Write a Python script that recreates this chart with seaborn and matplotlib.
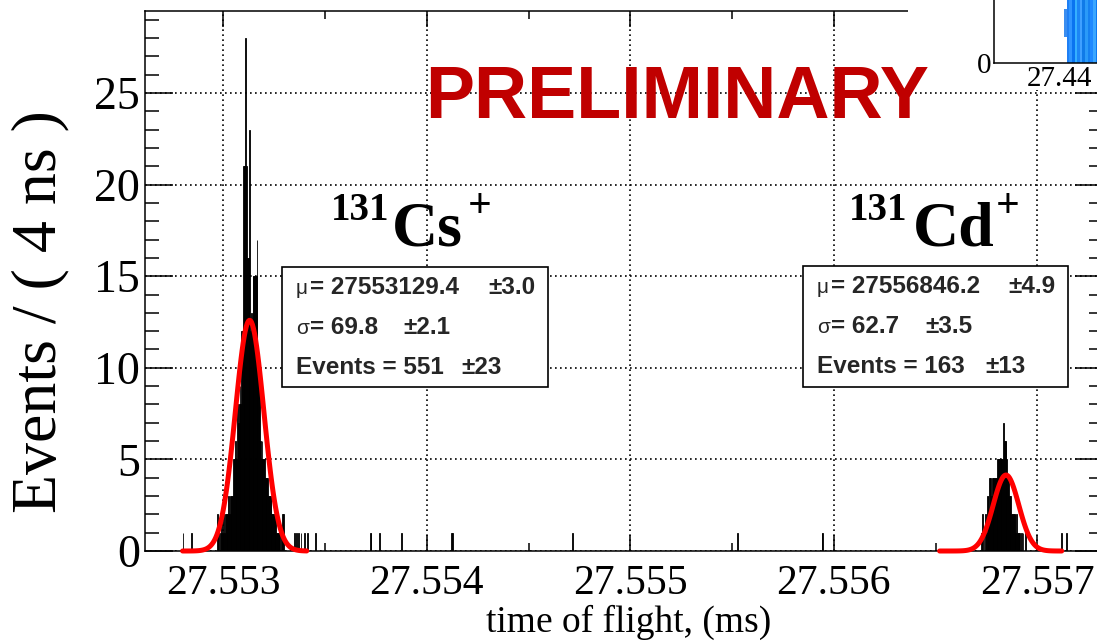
import numpy as np
import pandas as pd
import matplotlib
matplotlib.use("Agg")
import matplotlib.pyplot as plt
import seaborn as sns
from matplotlib.patches import Rectangle
from matplotlib.ticker import MultipleLocator, FormatStrFormatter

# ---------------- data ----------------
bin_width_ms = 0.000004          # 4 ns bins
hist_start_ms = 27.552600
hist_stop_ms = 27.557300

# 131Cs+ peak, counts per 4 ns bin starting at cs_start_ms
cs_start_ms = 27.552960
cs_counts = [0, 0, 2, 0, 1, 0, 1, 2, 1, 1, 2, 1,
             2, 2, 1, 2, 3, 2,
             3, 2, 3, 3,
             5, 5, 6, 5, 5, 8,
             7, 8, 9, 8,
             12, 12,
             21, 21, 21, 28, 21,
             16, 16, 16, 23,
             12, 13, 12,
             15, 15, 15, 15, 15,
             17,
             10, 10, 10,
             6, 5, 6, 5, 5, 5,
             4, 4, 4, 4,
             3, 3, 3, 3, 2,
             2, 2, 2, 2, 2, 1,
             1, 1, 1, 1,
             0, 1, 2, 2, 0]

# 131Cd+ peak, counts per 4 ns bin starting at cd_start_ms
cd_start_ms = 27.556700
cd_counts = [0, 0, 0, 0, 0, 0, 1,
             2, 0,
             1, 0, 2, 1,
             3, 3, 2,
             4, 4, 3, 4, 4, 4, 4, 4, 4,
             4, 5, 5,
             5, 5, 5, 5, 5,
             7, 6,
             6, 6,
             5, 4, 4,
             3, 3, 3,
             2, 2, 2, 2, 2,
             1, 2, 1, 1,
             1, 1, 0, 1, 0,
             1, 0, 0, 1, 0, 0]

# isolated single events (time of flight, ms)
stray_tof_ms = [27.5528034, 27.552844, 27.553352, 27.553357, 27.5533695,
                27.553384, 27.5533966, 27.553416, 27.553453, 27.5537209,
                27.5537258, 27.553768, 27.553873, 27.554122, 27.554126,
                27.554713, 27.555528, 27.555944, 27.555948, 27.557120,
                27.557144]

# fit results (ns)
cs_mu, cs_mu_err = 27553129.4, 3.0
cs_sigma, cs_sigma_err = 69.8, 2.1
cs_events, cs_events_err = 551, 23
cs_fit_range_ms = (27.55280, 27.55341)

cd_mu, cd_mu_err = 27556846.2, 4.9
cd_sigma, cd_sigma_err = 62.7, 3.5
cd_events, cd_events_err = 163, 13
cd_fit_range_ms = (27.55652, 27.55712)

x_ticks = [27.553, 27.554, 27.555, 27.556, 27.557]
y_ticks = [0, 5, 10, 15, 20, 25]

# inset (partially visible 2D histogram in top-right corner)
inset_cell_x = [27.4408, 27.4412, 27.4416, 27.4420, 27.4424, 27.4428, 27.4432,
                27.4436, 27.4440, 27.4444, 27.4448, 27.4452, 27.4456, 27.4460]
inset_cell_bottom = [3.3, 0.0, 0.0, 0.0, 0.0, 0.0, 0.0, 0.0, 0.0, 0.0, 0.0, 0.0, 0.0, 0.0]
inset_cell_height = [3.5, 10, 10, 10, 10, 10, 10, 10, 10, 10, 10, 10, 10, 10]
inset_cell_color = ['#3b8ef0', '#1e7ff5', '#2f95ff', '#0a74f0', '#35b0ff', '#1c86f5',
                    '#3fa0ff', '#0f7ae8', '#2a9af8', '#1580f0', '#1e88ff', '#3aa6ff',
                    '#0d78f0', '#2690fa']

# ---------------- figure ----------------
W, H = 1097, 642
sns.set_theme(style="white")
plt.rcParams['font.family'] = ['Liberation Serif', 'DejaVu Serif']

fig = plt.figure(figsize=(W / 100, H / 100), dpi=100)
fig.patch.set_facecolor('white')


def fx(px):
    return px / W


def fy(py):
    return 1 - py / H


ax_left, ax_right, ax_top, ax_bottom = 145, 1103, 11, 551
ax = fig.add_axes([fx(ax_left), fy(ax_bottom), (ax_right - ax_left) / W,
                   (ax_bottom - ax_top) / H], zorder=0)
ax.set_facecolor('white')

# build histogram
nbins = int(round((hist_stop_ms - hist_start_ms) / bin_width_ms))
edges = hist_start_ms + bin_width_ms * np.arange(nbins + 1)
counts = np.zeros(nbins)
i0 = int(round((cs_start_ms - hist_start_ms) / bin_width_ms))
counts[i0:i0 + len(cs_counts)] += cs_counts
i1 = int(round((cd_start_ms - hist_start_ms) / bin_width_ms))
counts[i1:i1 + len(cd_counts)] += cd_counts
for t in stray_tof_ms:
    k = int((t - hist_start_ms) / bin_width_ms)
    counts[k] += 1
centers = 0.5 * (edges[:-1] + edges[1:])
df = pd.DataFrame({'tof': centers, 'n': counts})
df = df[df.n > 0]

sns.histplot(data=df, x='tof', weights='n', binwidth=bin_width_ms,
             binrange=(hist_start_ms, hist_stop_ms), stat='count',
             element='bars', color='black', edgecolor='black', linewidth=0.6,
             alpha=1.0, ax=ax, zorder=2)

# fitted gaussians
bw_ns = bin_width_ms * 1e6
for mu, sig, n, rng in [(cs_mu, cs_sigma, cs_events, cs_fit_range_ms),
                        (cd_mu, cd_sigma, cd_events, cd_fit_range_ms)]:
    t = np.linspace(rng[0], rng[1], 120)
    y = n * bw_ns / (sig * np.sqrt(2 * np.pi)) * np.exp(-0.5 * ((t * 1e6 - mu) / sig) ** 2)
    sns.lineplot(x=t, y=y, color='red', linewidth=3.6, ax=ax, zorder=3,
                 clip_on=False, sort=True, estimator=None)

ax.set_xlim(27.553 + (ax_left - 223.3) / 203500, 27.553 + (ax_right - 223.3) / 203500)
ax.set_ylim(0, (ax_bottom - ax_top) / 18.32)
ax.set_xticks(x_ticks)
ax.set_yticks(y_ticks)
ax.xaxis.set_major_formatter(FormatStrFormatter('%.3f'))
ax.xaxis.set_minor_locator(MultipleLocator(0.0005))
ax.yaxis.set_minor_locator(MultipleLocator(1))
ax.set_xlabel('')
ax.set_ylabel('')
ax.grid(True, which='major', color='black', linestyle=(0, (1, 2)), linewidth=1.2)
ax.set_axisbelow(True)
for s in ax.spines.values():
    s.set_visible(True)
    s.set_color('black')
    s.set_linewidth(1.1)
ax.tick_params(axis='both', which='both', direction='in', colors='black',
               top=True, right=True, bottom=True, left=True, width=1.1)
ax.tick_params(axis='y', which='major', length=20, pad=3.5, labelsize=33)
ax.tick_params(axis='y', which='minor', length=10)
ax.tick_params(axis='x', which='major', length=11.5, pad=10, labelsize=30)
ax.tick_params(axis='x', which='minor', length=5.8)

fig.text(fx(40), fy(312), 'Events / ( 4 ns )', rotation=90, ha='center', va='center',
         fontsize=46, color='black')
fig.text(fx(629), fy(622), 'time of flight, (ms)', ha='center', va='center',
         fontsize=27, color='black')


# ion labels: mass number, element, charge
def ion_label(x_mass, x_elem, x_charge, mass, elem, charge):
    fig.text(fx(x_mass), fy(220), mass, ha='left', va='baseline', fontsize=28,
             fontweight='bold', color='black')
    fig.text(fx(x_elem), fy(245), elem, ha='left', va='baseline', fontsize=46,
             fontweight='bold', color='black')
    fig.text(fx(x_charge), fy(217), charge, ha='left', va='baseline', fontsize=30,
             fontweight='bold', color='black')


ion_label(331, 392, 468, '131', 'Cs', '+')
ion_label(849, 913, 996, '131', 'Cd', '+')

# stat boxes
sans = ['Liberation Sans', 'DejaVu Sans']
fs_box = 17.5


def stat_box(x0, x1, y0, y1, mu, mu_e, sg, sg_e, ev, ev_e, pm1, pm2, pm3):
    fig.patches.append(Rectangle((fx(x0), fy(y1)), fx(x1) - fx(x0), fy(y0) - fy(y1),
                                 transform=fig.transFigure, facecolor='white',
                                 edgecolor='black', linewidth=1.2, zorder=5))
    tx = x0 + 14
    rows = [fy(y0 + 27), fy(y0 + 67), fy(y0 + 107)]
    fig.text(fx(tx), rows[0], '\u03bc', family=sans, fontsize=15, va='baseline', zorder=6)
    fig.text(fx(tx + 14), rows[0], '= %.1f' % mu, family=sans, fontsize=fs_box,
             fontweight='bold', va='baseline', zorder=6)
    fig.text(fx(tx), rows[1], '\u03c3', family=sans, fontsize=15, va='baseline', zorder=6)
    fig.text(fx(tx + 14), rows[1], '= %.1f' % sg, family=sans, fontsize=fs_box,
             fontweight='bold', va='baseline', zorder=6)
    fig.text(fx(tx), rows[2], 'Events = %d' % ev, family=sans, fontsize=fs_box,
             fontweight='bold', va='baseline', zorder=6)
    for xp, val, r in [(pm1, '\u00b1%.1f' % mu_e, rows[0]), (pm2, '\u00b1%.1f' % sg_e, rows[1]),
                       (pm3, '\u00b1%d' % ev_e, rows[2])]:
        fig.text(fx(xp), r, val, family=sans, fontsize=fs_box, fontweight='bold',
                 va='baseline', zorder=6)


stat_box(282, 548, 267, 387, cs_mu, cs_mu_err, cs_sigma, cs_sigma_err,
         cs_events, cs_events_err, 488, 403, 461)
stat_box(803, 1068, 266, 387, cd_mu, cd_mu_err, cd_sigma, cd_sigma_err,
         cd_events, cd_events_err, 1008, 925, 985)

# white pad of overlapping inset (top right)
fig.patches.append(Rectangle((fx(908), fy(90)), 1 - fx(908) + 0.01, fy(0) - fy(90) + 0.01,
                             transform=fig.transFigure, facecolor='white',
                             edgecolor='none', zorder=1))
ins = fig.add_axes([fx(994), fy(63), 132 / W, 80 / H], zorder=2)
ins.set_facecolor('none')
ins.bar(inset_cell_x, inset_cell_height, bottom=inset_cell_bottom, width=0.0004,
        color=inset_cell_color, edgecolor='none', align='center')
ins.set_xlim(27.43, 27.45)
ins.set_ylim(0, 10)
ins.set_xticks([27.44])
ins.set_xticklabels(['27.44'])
ins.set_yticks([0])
ins.set_yticklabels(['0'])
ins.tick_params(length=0, labelsize=21, pad=2, colors='black')
for k in ['top', 'right']:
    ins.spines[k].set_visible(False)
for k in ['left', 'bottom']:
    ins.spines[k].set_color('black')
    ins.spines[k].set_linewidth(1.1)
ins.grid(False)

fig.text(fx(425), fy(117.5), 'PRELIMINARY', family=sans, fontweight='bold',
         fontsize=53, color='#c00000', ha='left', va='baseline', zorder=7)

fig.savefig('out.png', dpi=100, facecolor='white')
